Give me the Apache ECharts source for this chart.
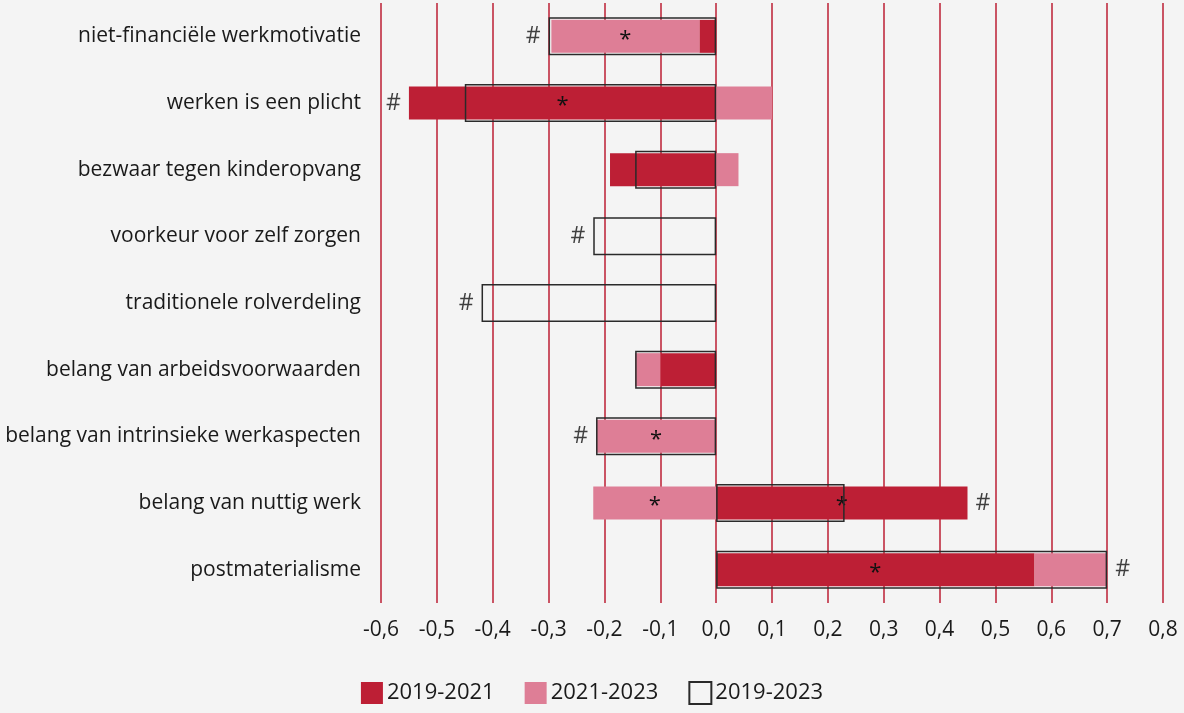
<!DOCTYPE html>
<html>
<head>
<meta charset="utf-8">
<script src="https://cdn.jsdelivr.net/npm/echarts@6/dist/echarts.min.js"></script>
<style>
  html, body { margin: 0; padding: 0; background: #f4f4f4; }
  #chart { width: 1184px; height: 713px; }
</style>
</head>
<body>
<div id="chart"></div>
<script>
const categories = [
  'niet-financiële werkmotivatie',
  'werken is een plicht',
  'bezwaar tegen kinderopvang',
  'voorkeur voor zelf zorgen',
  'traditionele rolverdeling',
  'belang van arbeidsvoorwaarden',
  'belang van intrinsieke werkaspecten',
  'belang van nuttig werk',
  'postmaterialisme'
]
const change1921 = [-0.03, -0.55, -0.19, 0, 0, -0.10, 0, 0.45, 0.57]
const change2123 = [-0.265, 0.10, 0.04, 0, 0, -0.045, -0.215, -0.22, 0.13]
const change1923 = [-0.30, -0.45, -0.145, -0.22, -0.42, -0.145, -0.215, 0.23, 0.70]
// * = significant change within period, # = significant trend
const star1921 = [0, 1, 0, 0, 0, 0, 0, 1, 1]
const star2123 = [1, 0, 0, 0, 0, 0, 1, 1, 0]
const hashMark = [1, 1, 0, 1, 1, 0, 1, 1, 1]
const xTicks = { min: -0.6, max: 0.8, step: 0.1 }

const DARK = '#bd1f35'
const PINK = '#de7e96'
const FONT = 'Open Sans'

const starLabel = { show: true, position: 'inside', formatter: '*', color: '#111', fontSize: 22, fontFamily: FONT, offset: [0, 3] }

const barData = (values, stars) => values.map((v, i) => (
  stars[i] ? { value: v, label: starLabel } : { value: v }
))

// outer end of each row, where the # goes
const hashData = []
categories.forEach((c, i) => {
  if (!hashMark[i]) return
  const vals = [change1921[i], change2123[i]]
  const neg = vals.filter(v => v < 0).reduce((a, b) => a + b, 0)
  const pos = vals.filter(v => v > 0).reduce((a, b) => a + b, 0)
  const lo = Math.min(neg, change1923[i])
  const hi = Math.max(pos, change1923[i])
  const end = Math.abs(lo) >= Math.abs(hi) ? lo : hi
  hashData.push({
    value: [end, i],
    label: { position: end < 0 ? 'left' : 'right' }
  })
})

const chart = echarts.init(document.getElementById('chart'))
const option = {
  backgroundColor: '#f4f4f4',
  animation: false,
  grid: { left: 381, right: 21, top: 3, bottom: 110 },
  legend: {
    bottom: 3,
    left: 'center',
    icon: 'rect',
    itemWidth: 22,
    itemHeight: 22,
    itemGap: 30,
    textStyle: { fontSize: 22, fontFamily: FONT, color: '#1a1a1a', padding: [0, 0, 0, -1] },
    data: ['2019-2021', '2021-2023', '2019-2023']
  },
  xAxis: {
    type: 'value',
    min: xTicks.min,
    max: xTicks.max,
    interval: xTicks.step,
    axisLine: { show: false },
    axisTick: { show: false },
    splitLine: { show: true, lineStyle: { color: DARK, width: 1.5 } },
    axisLabel: {
      fontSize: 21,
      fontFamily: FONT,
      color: '#1a1a1a',
      margin: 17,
      formatter: v => (Math.round(v * 10) / 10).toFixed(1).replace('.', ',')
    }
  },
  yAxis: [
    {
      type: 'category',
      data: categories,
      inverse: true,
      axisLine: { show: false, onZero: false },
      axisTick: { show: false },
      axisLabel: { fontSize: 21, fontFamily: FONT, color: '#1a1a1a', margin: 20 }
    },
    {
      type: 'category',
      data: categories,
      inverse: true,
      show: false,
      position: 'left',
      axisLine: { onZero: false }
    }
  ],
  series: [
    {
      name: '2019-2021',
      type: 'bar',
      stack: 'change',
      yAxisIndex: 0,
      barWidth: 33,
      itemStyle: { color: DARK },
      data: barData(change1921, star1921)
    },
    {
      name: '2021-2023',
      type: 'bar',
      stack: 'change',
      yAxisIndex: 0,
      barWidth: 33,
      itemStyle: { color: PINK },
      data: barData(change2123, star2123)
    },
    {
      name: '2019-2023',
      type: 'bar',
      yAxisIndex: 1,
      barWidth: 38,
      z: 5,
      itemStyle: { color: 'rgba(0,0,0,0)', borderColor: '#2a2a2a', borderWidth: 1.5 },
      data: change1923
    },
    {
      name: 'trend',
      type: 'scatter',
      yAxisIndex: 0,
      symbolSize: 0,
      z: 6,
      label: { show: true, formatter: '#', color: '#111', fontSize: 23, fontFamily: FONT, distance: 8 },
      data: hashData
    }
  ]
}
chart.setOption(option)
</script>
</body>
</html>
